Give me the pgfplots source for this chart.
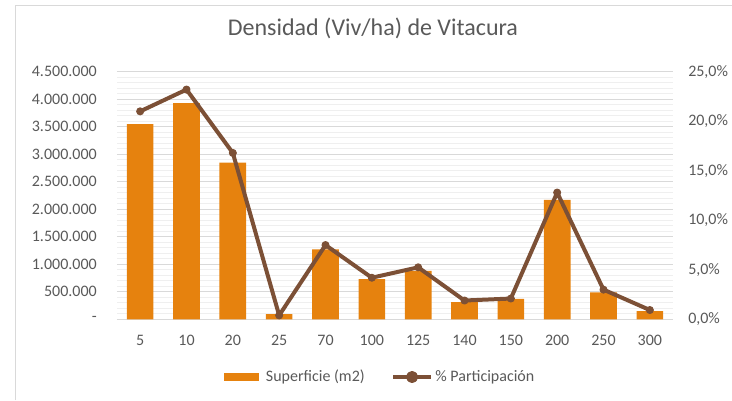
\documentclass[border=0pt]{standalone}
\usepackage{fontspec}
\setmainfont{Carlito}
\usepackage{pgfplots}
\pgfplotsset{compat=1.18}
\definecolor{barcol}{HTML}{E6820E}
\definecolor{linecol}{HTML}{7C5036}
\definecolor{txt}{HTML}{595959}
\definecolor{gridc}{HTML}{D9D9D9}
\definecolor{mgrid}{HTML}{EFEFEF}
\begin{document}
\begin{tikzpicture}
\pgfplotsset{
  every axis/.append style={
    scale only axis, width=417pt, height=185.7pt,
    xmin=-0.5, xmax=11.5,
    axis line style={draw=none},
    major tick length=0pt, minor tick length=0pt,
    tick label style={font=\fontsize{12}{14}\selectfont, text=txt, inner sep=0pt},
    /pgf/number format/assume math mode=true,
  }
}
\begin{axis}[
  ymin=0, ymax=4500000,
  ytick={0,500000,1000000,1500000,2000000,2500000,3000000,3500000,4000000,4500000},
  yticklabels={-,500.000,1.000.000,1.500.000,2.000.000,2.500.000,3.000.000,3.500.000,4.000.000,4.500.000},
  xtick={0,1,2,3,4,5,6,7,8,9,10,11},
  xticklabels={5,10,20,25,70,100,125,140,150,200,250,300},
  xticklabel style={anchor=center, yshift=-15.9pt},
  yticklabel style={anchor=east, xshift=-15pt},
  ymajorgrids, yminorgrids, minor y tick num=4,
  major grid style={gridc, line width=0.75pt},
  minor grid style={mgrid, line width=0.6pt},
  scaled y ticks=false,
]
\addplot[ybar, bar width=20pt, fill=barcol, draw=none] coordinates {
(0,3550000) (1,3930000) (2,2850000) (3,96000) (4,1270000) (5,730000)
(6,880000) (7,315000) (8,370000) (9,2170000) (10,490000) (11,150000)};
\end{axis}
\begin{axis}[
  ymin=0, ymax=25,
  axis y line*=right, axis x line=none,
  ytick={0,5,10,15,20,25},
  yticklabels={{0,0\%},{5,0\%},{10,0\%},{15,0\%},{20,0\%},{25,0\%}},
  yticklabel style={anchor=west, xshift=11.25pt},
  legend style={at={(0.474,-0.233)}, anchor=center, draw=none, fill=none,
    legend columns=2, font=\fontsize{12}{14}\selectfont, text=txt,
    /tikz/every even column/.append style={column sep=18pt}},
  legend cell align=left,
]
\addlegendimage{legend image code/.code={\fill[barcol] (0pt,-2.5pt) rectangle (25.5pt,2.5pt); \path (29pt,0pt);}}
\addlegendentry{Superficie (m2)}
\addplot[linecol, line width=3pt, line join=round, mark=*, mark size=2.6pt,
  mark options={line width=0.8pt},
  legend image code/.code={\draw[linecol, line width=2.5pt] (0pt,0pt) -- (28.5pt,0pt); \fill[linecol] (14.25pt,0pt) circle (3pt);}]
coordinates {
(0,21.0) (1,23.2) (2,16.8) (3,0.4) (4,7.5) (5,4.2)
(6,5.25) (7,1.9) (8,2.1) (9,12.8) (10,3.0) (11,0.94)};
\addlegendentry{\% Participación}
\end{axis}
\node[font=\fontsize{18}{22}\selectfont, text=txt, anchor=base] at (192pt,213.2pt) {Densidad (Viv/ha) de Vitacura};
\draw[gridc, line width=0.75pt] (-75.75pt,-60.5pt) -- (-75.75pt,235pt) -- (461.25pt,235pt);
\pgfresetboundingbox
\path (-87.75pt,-60.5pt) rectangle (461.25pt,239.5pt);
\end{tikzpicture}
\end{document}
